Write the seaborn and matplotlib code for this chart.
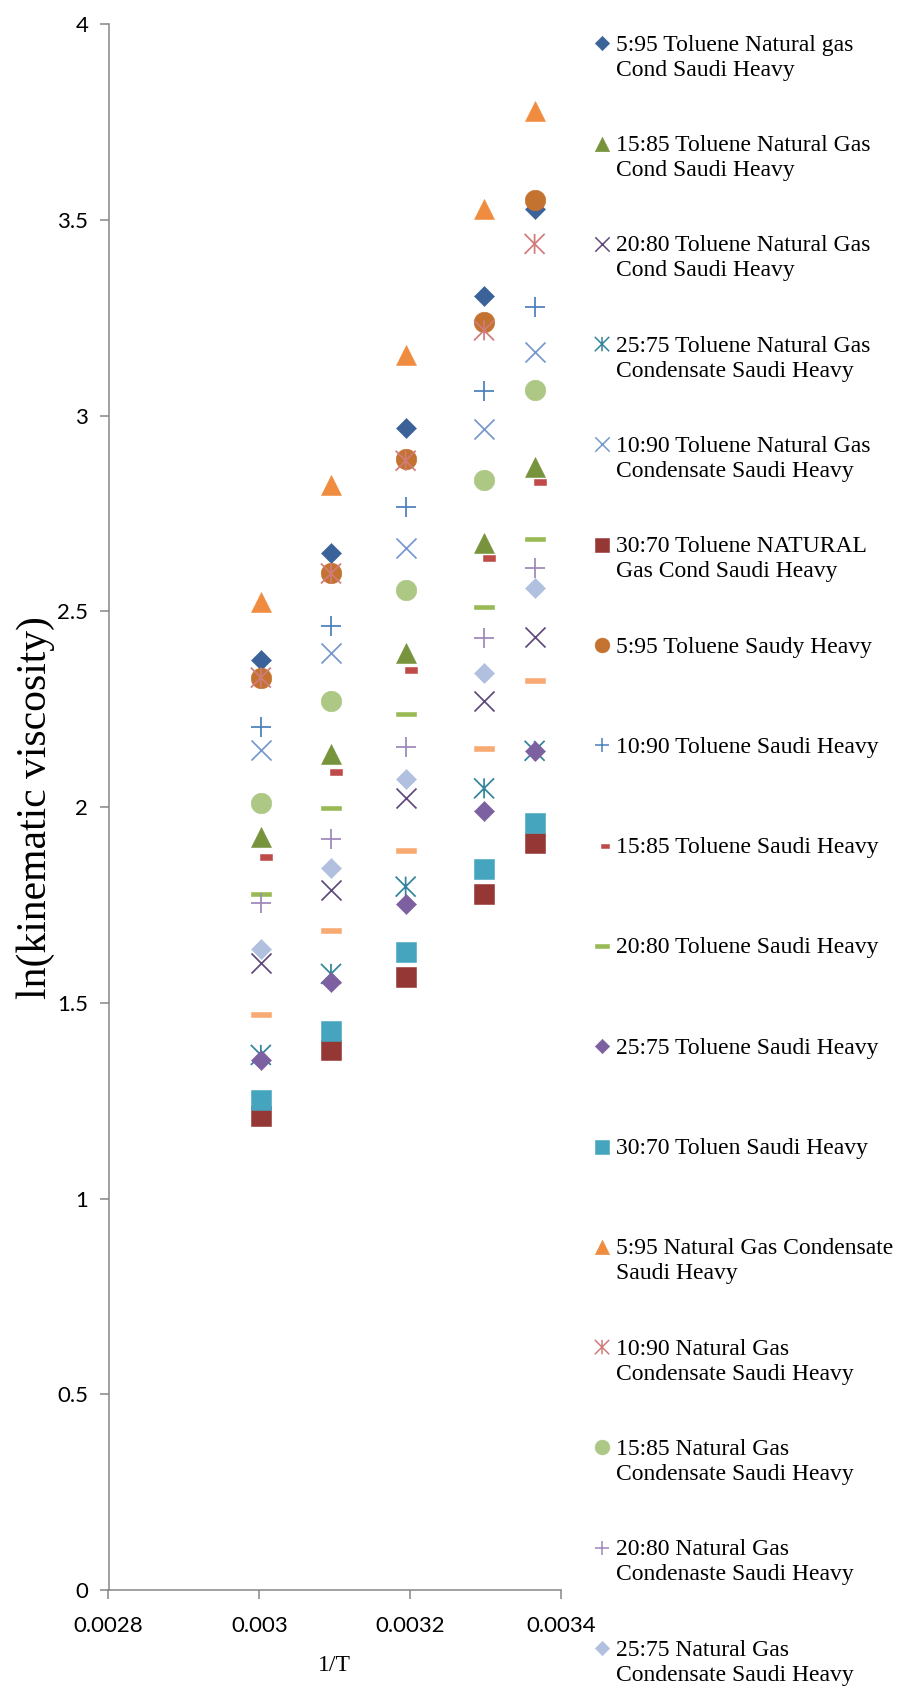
import numpy as np
import pandas as pd
import matplotlib
matplotlib.use("Agg")
import matplotlib.pyplot as plt
from matplotlib.path import Path
import seaborn as sns

# ---------------- data ----------------
inv_T = [0.003002, 0.003095, 0.003194, 0.003298, 0.003365]
inv_T_short_dash = [0.003009, 0.003102, 0.003201, 0.003304, 0.003372]

labels = [
    ["5:95 Toluene Natural gas", "Cond Saudi Heavy"],
    ["15:85 Toluene Natural Gas", "Cond Saudi Heavy"],
    ["20:80 Toluene Natural Gas", "Cond Saudi Heavy"],
    ["25:75 Toluene Natural Gas", "Condensate Saudi Heavy"],
    ["10:90 Toluene Natural Gas", "Condensate Saudi Heavy"],
    ["30:70 Toluene NATURAL", "Gas Cond Saudi Heavy"],
    ["5:95 Toluene Saudy Heavy"],
    ["10:90 Toluene Saudi Heavy"],
    ["15:85 Toluene Saudi Heavy"],
    ["20:80 Toluene Saudi Heavy"],
    ["25:75 Toluene Saudi Heavy"],
    ["30:70 Toluen Saudi Heavy"],
    ["5:95 Natural Gas Condensate", "Saudi Heavy"],
    ["10:90 Natural Gas", "Condensate Saudi Heavy"],
    ["15:85 Natural Gas", "Condensate Saudi Heavy"],
    ["20:80 Natural Gas", "Condenaste Saudi Heavy"],
    ["25:75 Natural Gas", "Condensate Saudi Heavy"],
    ["30:70 Natural Gas", "Condensate Saudi Heavy"],
]

tng_5_95 = [2.375, 2.650, 2.968, 3.307, 3.529]
tng_15_85 = [1.923, 2.137, 2.395, 2.674, 2.868]
tng_20_80 = [1.601, 1.788, 2.024, 2.272, 2.434]
tng_25_75 = [1.367, 1.574, 1.797, 2.048, 2.144]
tng_10_90 = [2.147, 2.393, 2.662, 2.965, 3.163]
tng_30_70 = [1.210, 1.380, 1.566, 1.778, 1.909]
t_5_95 = [2.331, 2.597, 2.890, 3.239, 3.552]
t_10_90 = [2.205, 2.463, 2.768, 3.063, 3.279]
t_15_85 = [1.872, 2.090, 2.351, 2.637, 2.831]
t_20_80 = [1.778, 1.997, 2.237, 2.512, 2.684]
t_25_75 = [1.354, 1.553, 1.753, 1.991, 2.144]
t_30_70 = [1.253, 1.428, 1.630, 1.841, 1.960]
ng_5_95 = [2.524, 2.823, 3.154, 3.529, 3.778]
ng_10_90 = [2.331, 2.597, 2.885, 3.218, 3.439]
ng_15_85 = [2.010, 2.272, 2.556, 2.835, 3.065]
ng_20_80 = [1.756, 1.918, 2.154, 2.431, 2.610]
ng_25_75 = [1.637, 1.844, 2.071, 2.342, 2.560]
ng_30_70 = [1.471, 1.686, 1.890, 2.150, 2.326]

series_values = [tng_5_95, tng_15_85, tng_20_80, tng_25_75, tng_10_90, tng_30_70,
                 t_5_95, t_10_90, t_15_85, t_20_80, t_25_75, t_30_70,
                 ng_5_95, ng_10_90, ng_15_85, ng_20_80, ng_25_75, ng_30_70]
series_x = [inv_T] * 8 + [inv_T_short_dash] + [inv_T] * 9

y_ticks = [0, 0.5, 1, 1.5, 2, 2.5, 3, 3.5, 4]
y_tick_labels = ["0", "0.5", "1", "1.5", "2", "2.5", "3", "3.5", "4"]
x_ticks = [0.0028, 0.003, 0.0032, 0.0034]
x_tick_labels = ["0.0028", "0.003", "0.0032", "0.0034"]

# ---------------- styles ----------------
def rect_path(h):
    return Path([(-0.5, -h), (0.5, -h), (0.5, h), (-0.5, h), (-0.5, -h)],
                [Path.MOVETO, Path.LINETO, Path.LINETO, Path.LINETO, Path.CLOSEPOLY])

asterisk = Path([(-0.5, -0.5), (0.5, 0.5), (-0.5, 0.5), (0.5, -0.5), (0, -0.5), (0, 0.5)],
                [Path.MOVETO, Path.LINETO, Path.MOVETO, Path.LINETO, Path.MOVETO, Path.LINETO])
long_dash = rect_path(0.11)
short_dash = rect_path(0.23)
orange_dash = rect_path(0.125)

# (marker, size in pt, colour, kind) kind: fill / line / path
styles = [
    ("D", 10.2, "#3B639A", "fill"),
    ("^", 14.4, "#77933C", "fill"),
    ("x", 14.4, "#5F497A", "line"),
    (asterisk, 14.4, "#31849B", "path"),
    ("x", 14.4, "#7698CF", "line"),
    ("s", 14.4, "#953735", "fill"),
    ("o", 14.8, "#C4722F", "fill"),
    ("+", 14.4, "#4A7EBB", "line"),
    (short_dash, 8.0, "#BE4B48", "fill"),
    (long_dash, 14.4, "#98B954", "fill"),
    ("D", 10.2, "#7D60A0", "fill"),
    ("s", 14.4, "#46A5BE", "fill"),
    ("^", 14.4, "#F08C3F", "fill"),
    (asterisk, 14.4, "#D07C7A", "path"),
    ("o", 14.8, "#ADC785", "fill"),
    ("+", 14.4, "#9C88B8", "line"),
    ("D", 10.2, "#B0C0DE", "fill"),
    (orange_dash, 14.4, "#F9AA73", "fill"),
]

def marker_kws(m, ms, c, kind, scale=1.0, lw_line=1.25):
    kws = dict(marker=m, s=(ms * scale) ** 2)
    if kind == "line":
        kws.update(color=c, linewidth=lw_line)
    elif kind == "path":
        kws.update(facecolor="none", edgecolor=c, linewidth=lw_line)
    else:
        kws.update(color=c, edgecolor=c, linewidth=0.4)
    return kws

# ---------------- figure ----------------
sns.set_theme(style="white")
plt.rcParams["font.family"] = ["Liberation Serif", "DejaVu Serif"]

W, H = 898, 1687
fig = plt.figure(figsize=(W / 100, H / 100), dpi=100)
ax_l, ax_r, ax_b, ax_t = 108.5, 561.0, 1590.0, 24.3
ax = fig.add_axes([ax_l / W, 1 - ax_b / H, (ax_r - ax_l) / W, (ax_b - ax_t) / H])

for xs, ys, (m, ms, c, kind) in zip(series_x, series_values, styles):
    df = pd.DataFrame({"x": xs, "y": ys})
    sns.scatterplot(data=df, x="x", y="y", ax=ax, **marker_kws(m, ms, c, kind))

ax.set_xlim(0.0028, 0.0034)
ax.set_ylim(0, 4)
ax.set_xticks(x_ticks, x_tick_labels)
ax.set_yticks(y_ticks, y_tick_labels)
for side in ["top", "right"]:
    ax.spines[side].set_visible(False)
for side in ["left", "bottom"]:
    ax.spines[side].set_color("#868686")
    ax.spines[side].set_linewidth(1.1)
ax.tick_params(axis="both", which="major", direction="out", length=6.5, width=1.1,
               color="#868686", labelsize=16, labelcolor="black",
               labelfontfamily="Lato", left=True, bottom=True)
ax.tick_params(axis="y", pad=8)
ax.tick_params(axis="x", pad=12)
ax.grid(False)

ax.set_xlabel("1/T", fontsize=17, color="black")
ax.set_ylabel("ln(kinematic viscosity)", fontsize=30, color="black")
ax.xaxis.set_label_coords(0.5, -(1655 - ax_b) / (ax_b - ax_t))
ax.yaxis.set_label_coords(-(ax_l - 55) / (ax_r - ax_l), 0.5)

# ---------------- legend (Excel style, clipped at figure bottom) ----------------
leg = fig.add_axes([0, 0, 1, 1], facecolor="none")
leg.set_xlim(0, W)
leg.set_ylim(H, 0)
leg.axis("off")
first_y, step, line_gap = 43.2, 100.3, 25.0
for i, (lab, (m, ms, c, kind)) in enumerate(zip(labels, styles)):
    ym = first_y + step * i
    mx = 605 if m is short_dash else 602
    leg.scatter([mx], [ym], clip_on=False, **marker_kws(m, ms, c, kind, scale=0.72, lw_line=1.1))
    for j, line in enumerate(lab):
        leg.text(616, ym + 7.5 + j * line_gap, line, fontsize=17,
                 va="baseline", ha="left", color="black")

fig.savefig("out.png", dpi=100)
